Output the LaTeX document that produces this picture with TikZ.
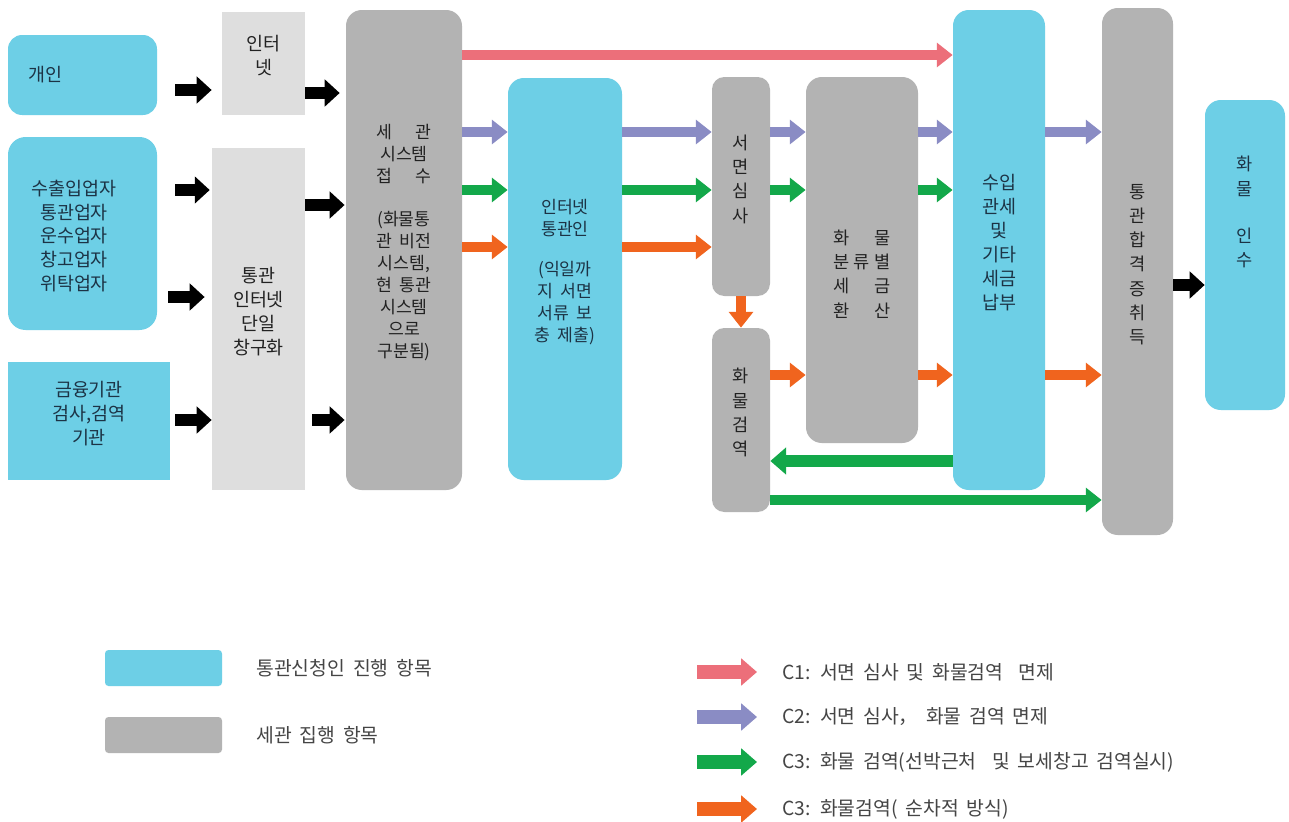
\documentclass[tikz,border=0pt]{standalone}
\usepackage{fontspec}
\newfontfamily\kr{Noto Sans CJK KR}
\newfontfamily\krleg[WordSpace=1.8]{Noto Sans CJK KR}
\usetikzlibrary{arrows.meta,fit}
\definecolor{cy}{HTML}{6DCFE6}
\definecolor{gr}{HTML}{B3B3B3}
\definecolor{lg}{HTML}{DEDEDE}
\definecolor{cr}{HTML}{EC6F7A}
\definecolor{cp}{HTML}{8A8CC4}
\definecolor{cg}{HTML}{13A84A}
\definecolor{co}{HTML}{F0641E}
\definecolor{tc}{HTML}{1C3345}
\definecolor{tg}{HTML}{222222}
\definecolor{lt}{HTML}{454545}
\newcommand\fsA{\kr\fontsize{10.5}{13.6}\selectfont}
\newcommand\fsB{\kr\fontsize{9.8}{12.5}\selectfont}
\newcommand\fsV{\kr\fontsize{10}{13.8}\selectfont}
\newcommand\fsL{\krleg\fontsize{11}{13}\selectfont}
\newcommand\cc[1]{\makebox[11.5pt]{#1}}
\begin{document}
\begin{tikzpicture}[x=0.02cm,y=-0.02cm,
  base/.style={draw=none, inner sep=0pt, align=center},
  cbox/.style={base, fill=cy, rounded corners=7pt, text=tc},
  cboxs/.style={base, fill=cy, text=tc},
  gbox/.style={base, fill=gr, rounded corners=7pt, text=tg},
  lbox/.style={base, fill=lg, text=tg},
  blk/.style={line width=7pt, draw=black, -{Triangle[width=15pt,length=8.5pt]}},
  carr/.style={line width=6pt, draw=#1, -{Triangle[width=13.5pt,length=9pt]}},
  larr/.style={line width=8pt, draw=#1, -{Triangle[width=15pt,length=9pt]}},
  ltext/.style={font=\fsL, text=lt, anchor=west, inner sep=0pt}
]
\fill[white] (0,0) rectangle (1289,822);
\useasboundingbox (0,0) rectangle (1289,822);

% ---- boxes ----
\node[cbox, rounded corners=8pt, fit={(8,35)(157,115)}] (gein) {};
\node[text=tc, font=\fsA, anchor=west, inner sep=0pt] (tgein) at (28,75) {개인};
\node[cbox, rounded corners=10pt, fit={(8,137)(157,330)}] (sue) {};
\node[text=tc, font=\fsA, align=center, inner sep=0pt] (tsue) at (74,236) {수출입업자\\통관업자\\운수업자\\창고업자\\위탁업자};
\node[cboxs, fit={(8,362)(170,480)}, font=\fsA] (geum) {금융기관\\검사,검역\\기관};
\node[lbox, fit={(222,12)(305,115)}, font=\fsA] (inet1) {인터\\넷};
\node[lbox, fit={(212,148)(305,490)}, font=\fsA] (chang) {통관\\인터넷\\단일\\창구화};
\node[gbox, rounded corners=9pt, fit={(346,10)(462,490)}, font=\fsB] (segwan) {세\hspace{1.3em}관\\시스템\\접\hspace{1.3em}수\\[12pt](화물통\\관 비전\\시스템,\\현 통관\\시스템\\으로\\구분됨)};
\node[cbox, rounded corners=9pt, fit={(508,78)(622,480)}, font=\fsB] (itg) {인터넷\\통관인\\[10pt](익일까\\지 서면\\서류 보\\충 제출)};
\node[gbox, fit={(712,77)(770,296)}, font=\fsV] (smss) {서\\면\\심\\사};
\node[gbox, fit={(712,328)(770,512)}, font=\fsV] (hmgy) {화\\물\\검\\역};
\node[gbox, rounded corners=9pt, fit={(806,77)(918,443)}] (bunryu) {};
\node[text=tg, font=\fsV, align=center, inner sep=0pt] (tbun) at (862,274) {\cc{화}\cc{}\cc{물}\\\cc{분}\cc{류}\cc{별}\\\cc{세}\cc{}\cc{금}\\\cc{환}\cc{}\cc{산}};
\node[cbox, rounded corners=9pt, fit={(953,10)(1045,490)}, font=\fsA] (napbu) {수입\\관세\\및\\기타\\세금\\납부};
\node[gbox, rounded corners=9pt, fit={(1102,8)(1173,535)}, font=\fsV] (hapgyeok) {통\\관\\합\\격\\증\\취\\득};
\node[cbox, rounded corners=9pt, fit={(1205,100)(1285,410)}] (insu) {};
\node[text=tc, font=\fsV, align=center, inner sep=0pt] (tinsu) at (1245,212) {화\\물\\[13pt]인\\수};

% ---- black arrows ----
\coordinate (b1) at (0,90);
\coordinate (b2) at (0,93);
\coordinate (b3) at (0,190);
\coordinate (b4) at (0,297);
\coordinate (b5) at (0,420);
\coordinate (b6) at (0,205);
\coordinate (b7) at (0,285);
\draw[blk, shorten <=10.2pt, shorten >=5.7pt] (gein.east |- b1) -- (inet1.west |- b1);
\draw[blk, shorten >=3.4pt] (inet1.east |- b2) -- (segwan.west |- b2);
\draw[blk, shorten <=10.2pt, shorten >=1.1pt] (sue.east |- b3) -- (chang.west |- b3);
\draw[blk, shorten <=6.2pt, shorten >=4pt] (sue.east |- b4) -- (chang.west |- b4);
\draw[blk, shorten <=2.8pt] (geum.east |- b5) -- (chang.west |- b5);
\draw[blk, shorten >=0.6pt] (chang.east |- b6) -- (segwan.west |- b6);
\draw[blk, shorten <=4pt, shorten >=0.6pt] (chang.east |- b5) -- (segwan.west |- b5);
\draw[blk] (hapgyeok.east |- b7) -- (insu.west |- b7);

% ---- coloured arrows ----
\coordinate (yR) at (0,55);
\coordinate (yP) at (0,132);
\coordinate (yG) at (0,190);
\coordinate (yO) at (0,247);
\coordinate (yO2) at (0,375);
\coordinate (yGb) at (0,461);
\coordinate (yGc) at (0,500);
\draw[carr=cr] (segwan.east |- yR) -- (napbu.west |- yR);
\foreach \a/\b in {segwan/itg, itg/smss, smss/bunryu, bunryu/napbu, napbu/hapgyeok}
  \draw[carr=cp] (\a.east |- yP) -- (\b.west |- yP);
\foreach \a/\b in {segwan/itg, itg/smss, smss/bunryu, bunryu/napbu}
  \draw[carr=cg] (\a.east |- yG) -- (\b.west |- yG);
\foreach \a/\b in {segwan/itg, itg/smss}
  \draw[carr=co] (\a.east |- yO) -- (\b.west |- yO);
\foreach \a/\b in {hmgy/bunryu, bunryu/napbu, napbu/hapgyeok}
  \draw[carr=co] (\a.east |- yO2) -- (\b.west |- yO2);
\draw[carr=co] (smss.south) -- (hmgy.north);
\draw[carr=cg, line width=7pt, -{Triangle[width=15pt,length=9pt]}] (napbu.west |- yGb) -- (hmgy.east |- yGb);
\draw[carr=cg] (hmgy.east |- yGc) -- (hapgyeok.west |- yGc);

% ---- legend ----
\node[cbox, rounded corners=2pt, fit={(105,650)(222,686)}] (legc) {};
\node[gbox, rounded corners=2pt, fit={(105,717)(222,753)}] (legg) {};
\node[ltext] (legct) at (256,668) {통관신청인 진행 항목};
\node[ltext] (leggt) at (256,735) {세관 집행 항목};
\coordinate (l1a) at (697,672); \coordinate (l1b) at (757,672);
\coordinate (l2a) at (697,717); \coordinate (l2b) at (757,717);
\coordinate (l3a) at (697,762); \coordinate (l3b) at (757,762);
\coordinate (l4a) at (697,809); \coordinate (l4b) at (757,809);
\draw[larr=cr] (l1a) -- (l1b);
\draw[larr=cp] (l2a) -- (l2b);
\draw[larr=cg] (l3a) -- (l3b);
\draw[larr=co] (l4a) -- (l4b);
\node[ltext] (lt1) at (782,672) {C1: 서면 심사 및 화물검역\ \ 면제};
\node[ltext] (lt2) at (782,717) {C2: 서면 심사， 화물 검역 면제};
\node[ltext] (lt3) at (782,762) {C3: 화물 검역(선박근처\ \ 및 보세창고 검역실시)};
\node[ltext] (lt4) at (782,809) {C3: 화물검역( 순차적 방식)};
\end{tikzpicture}
\end{document}
